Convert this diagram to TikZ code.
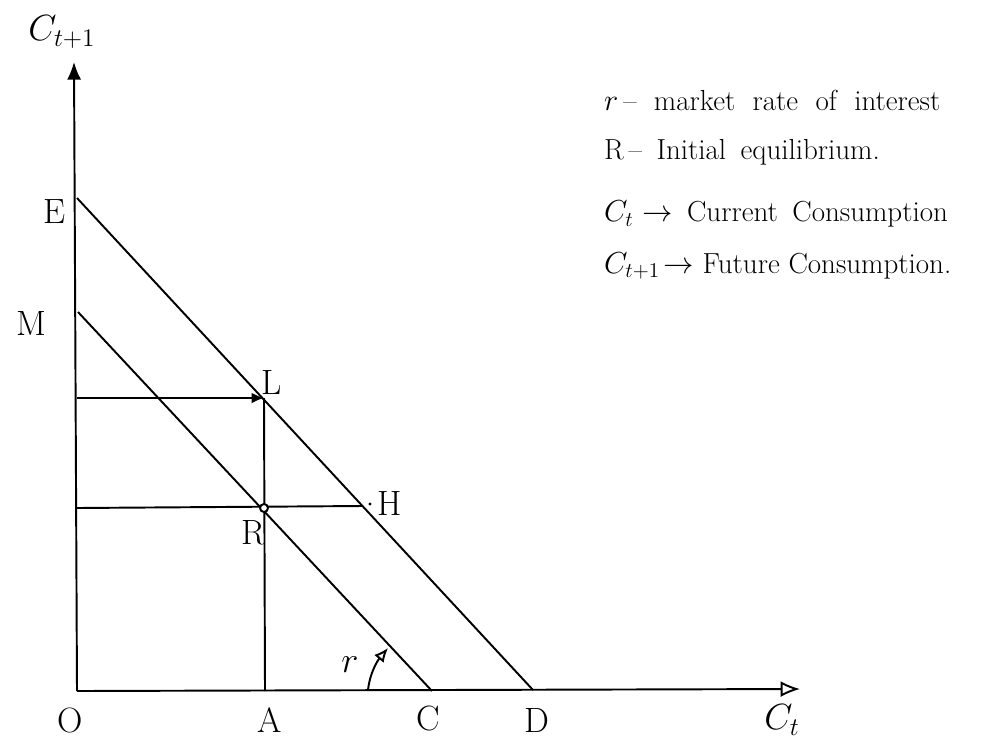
\documentclass[tikz,border=0pt]{standalone}
\usetikzlibrary{arrows.meta}
\begin{document}
\begin{tikzpicture}[x=0.02cm,y=-0.02cm,
  ln/.style={line width=1.1pt,black},
  lbl/.style={font=\fontsize{20}{24}\selectfont},
  note/.style={font=\fontsize{16.5}{19}\selectfont,anchor=west}]
\useasboundingbox (0,0) rectangle (990,741);
% points
\coordinate (O) at (77,691);
\coordinate (Ytop) at (74,62);
\coordinate (Xend) at (800,689);
\coordinate (E) at (77,198);
\coordinate (M) at (78,312);
\coordinate (L) at (264,398);
\coordinate (R) at (264,508);
\coordinate (H) at (362,506);
\coordinate (A) at (265,691);
\coordinate (C) at (432,691);
\coordinate (D) at (533,690);
\coordinate (Ly) at (77,398);
\coordinate (Ry) at (77,508);
\coordinate (rs) at (368,690);
\coordinate (re) at (388,648);
% axes
\draw[ln,-{Latex[length=10pt,width=8pt]}] (O) -- (Ytop);
\draw[ln,-{Latex[length=11pt,width=9pt,open]}] (O) -- (Xend);
% budget lines
\draw[ln] (E) -- (D);
\draw[ln] (M) -- (C);
% guide lines
\draw[ln,-{Latex[length=7pt,width=6pt]}] (Ly) -- (L);
\draw[ln] (A) -- (L);
\draw[ln] (Ry) -- (H);
\fill (H) ++(8,-2) circle (1.6);
\draw[ln,fill=white] (R) circle (4);
% angle arrow
\draw[ln,-{Latex[length=8pt,width=7pt,open]}] (rs) .. controls (370,672) and (378,660) .. (re);
% labels
\node[lbl] (lE) at (55,212) {E};
\node[lbl] (lM) at (31,323) {M};
\node[lbl] (lL) at (272,382) {L};
\node[lbl] (lH) at (390,503) {H};
\node[lbl] (lR) at (253,533) {R};
\node[lbl] (lO) at (70,720) {O};
\node[lbl] (lA) at (270,720) {A};
\node[lbl] (lC) at (428,718) {C};
\node[lbl] (lD) at (537,720) {D};
\node[lbl] (lCt) at (782,720) {$C_t$};
\node[lbl] (lCt1) at (62,32) {$C_{t+1}$};
\node[lbl] (lr) at (350,665) {$r$};
% notes
\node[note] (n1) at (598,100) {\spaceskip=0.6em $r$\,-- market rate of interest};
\node[note] (n2) at (598,152) {\spaceskip=0.5em R\,-- Initial equilibrium.};
\node[note] (n3) at (598,214) {\spaceskip=0.5em $C_t\rightarrow$ Current Consumption};
\node[note] (n4) at (598,266) {$C_{t+1}\!\rightarrow$ Future Consumption.};
\end{tikzpicture}
\end{document}
